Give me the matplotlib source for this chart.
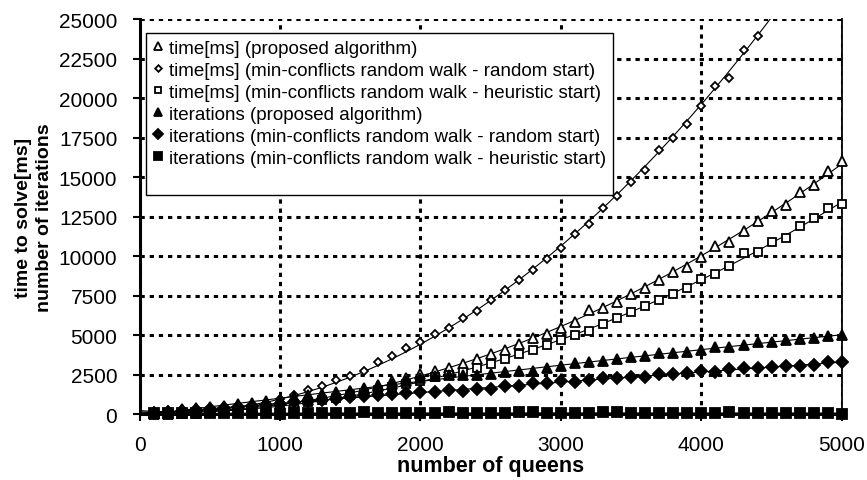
import numpy as np
import matplotlib.pyplot as plt
from matplotlib.lines import Line2D

plt.rcParams['font.family'] = ['Liberation Sans', 'DejaVu Sans']

queens = np.arange(100, 5001, 100)

time_proposed = [10, 30, 60, 100, 160, 230, 310, 410, 520, 640,
                 780, 920, 1080, 1250, 1440, 1640, 1850, 2070, 2310, 2520,
                 2740, 2950, 3160, 3480, 3800, 4050, 4430, 4800, 5060, 5450,
                 5800, 6570, 6720, 7090, 7600, 7960, 8480, 8970, 9330, 9930,
                 10620, 10870, 11600, 12240, 12870, 13250, 14030, 14520, 15400, 16030]
time_random = [30, 60, 100, 150, 220, 300, 400, 520, 700, 950,
               1200, 1540, 1790, 2150, 2390, 2740, 3270, 3690, 4180, 4540,
               5060, 5440, 6080, 6540, 7240, 7870, 8480, 9110, 9850, 10490,
               11390, 12030, 13040, 13820, 14690, 15450, 16710, 17470, 18360, 19500,
               20740, 21270, 23060, 23950, 25300, 26500, 27600, 28900, 30100, 31400]
time_heuristic = [10, 25, 50, 85, 130, 190, 260, 340, 430, 530,
                  640, 760, 890, 1040, 1190, 1360, 1530, 1720, 1910, 2100,
                  2320, 2470, 2680, 2890, 3200, 3460, 3830, 4070, 4400, 4690,
                  5030, 5290, 5700, 6100, 6440, 6860, 7220, 7600, 7960, 8550,
                  8860, 9390, 10190, 10280, 10910, 11140, 11920, 12410, 13040, 13290]
iter_proposed = [150, 220, 300, 360, 430, 500, 620, 700, 800, 880,
                 1060, 1180, 1290, 1390, 1490, 1620, 1750, 1900, 2080, 2280,
                 2420, 2450, 2480, 2500, 2530, 2640, 2740, 2760, 2950, 3060,
                 3230, 3270, 3370, 3480, 3590, 3690, 3840, 3850, 3940, 4050,
                 4220, 4230, 4390, 4540, 4580, 4700, 4750, 4790, 4920, 5000]
iter_random = [100, 150, 200, 260, 320, 380, 440, 510, 580, 660,
               740, 820, 900, 980, 1060, 1130, 1200, 1270, 1340, 1410,
               1410, 1540, 1480, 1620, 1620, 1750, 1790, 1940, 1940, 2070,
               2050, 2150, 2280, 2280, 2320, 2320, 2530, 2530, 2600, 2700,
               2680, 2850, 2910, 2910, 3000, 3060, 3060, 3120, 3270, 3270]
iter_heuristic = [40, 60, 50, 70, 45, 80, 55, 60, 40, 30,
                  70, 60, 90, 50, 40, 110, 50, 100, 40, 60,
                  50, 110, 60, 40, 50, 40, 120, 130, 100, 50,
                  90, 60, 110, 110, 60, 50, 100, 60, 40, 50,
                  100, 110, 80, 50, 90, 60, 40, 80, 100, 30]

labels = ["time[ms] (proposed algorithm)",
          "time[ms] (min-conflicts random walk - random start)",
          "time[ms] (min-conflicts random walk - heuristic start)",
          "iterations (proposed algorithm)",
          "iterations (min-conflicts random walk - random start)",
          "iterations (min-conflicts random walk - heuristic start)"]

fig = plt.figure(figsize=(8.67, 4.81), dpi=100)
ax = fig.add_axes([0.161, 0.137, 0.81, 0.821])

series = [
    (time_proposed, '^', 'white', 6.5, False),
    (time_random, 'D', 'white', 4.2, True),
    (time_heuristic, 's', 'white', 6.0, False),
    (iter_proposed, '^', 'black', 7.5, False),
    (iter_random, 'D', 'black', 6.0, False),
    (iter_heuristic, 's', 'black', 7.0, False),
]

xs = np.linspace(0, 5000, 300)
handles = []
for (vals, m, fc, ms, clip), lab in zip(series, labels):
    coef = np.polyfit(queens, vals, 2)
    ax.plot(xs, np.polyval(coef, xs), color='black', lw=0.8, zorder=3)
    h, = ax.plot(queens, vals, ls='none', marker=m, mfc=fc, mec='black',
                 mew=1.3, ms=ms, label=lab, clip_on=clip, zorder=4)
    handles.append(h)

ax.set_xlim(0, 5000)
ax.set_ylim(0, 25000)
ax.set_xticks(range(0, 5001, 1000))
ax.set_yticks(range(0, 25001, 2500))
ax.tick_params(labelsize=15, length=5, width=1.5, direction='out')
ax.tick_params(axis='x', pad=10)
ax.tick_params(axis='y', pad=11)

ax.grid(True, color='black', lw=2.2, ls=(0, (1.4, 1.6)))
ax.set_axisbelow(True)
for s in ['left', 'bottom']:
    ax.spines[s].set_linewidth(2.2)
ax.spines['top'].set_visible(False)
ax.spines['right'].set_linewidth(1.3)

ax.set_xlabel("number of queens", fontsize=15.5, fontweight='bold', labelpad=1)
ax.set_ylabel("time to solve[ms]\nnumber of iterations", fontsize=14,
              fontweight='bold', labelpad=4, linespacing=1.35)

# empty row keeps the extra space under the last entry
blank = Line2D([], [], ls='none')
leg = ax.legend(handles + [blank], labels + [''], loc='upper left',
                bbox_to_anchor=(0.009, 0.965),
                borderaxespad=0, fontsize=13.5, frameon=True, fancybox=False,
                edgecolor='black', framealpha=1, handlelength=0.6,
                handletextpad=0.3, labelspacing=0.26, borderpad=0.35,
                markerscale=0.8)
leg.get_frame().set_linewidth(1.0)

fig.savefig("out.png", dpi=100)
